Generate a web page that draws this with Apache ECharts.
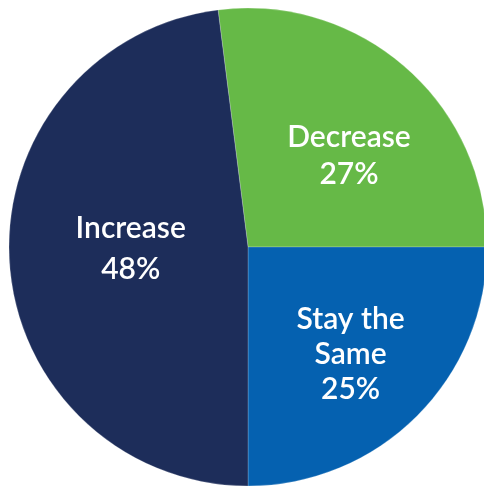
<!DOCTYPE html>
<html>
<head>
<meta charset="utf-8">
<script src="https://cdn.jsdelivr.net/npm/echarts@6/dist/echarts.min.js"></script>
<style>
  html, body { margin: 0; padding: 0; background: #ffffff; }
  #chart { width: 484px; height: 486px; }
</style>
</head>
<body>
<div id="chart"></div>
<script>
// Expected change in outlook — share of responses
const categories = ['Decrease', 'Stay the Same', 'Increase'];
const labelNames = ['Decrease', 'Stay the\nSame', 'Increase'];
const shares = [27, 25, 48];
const sliceColors = ['#66b947', '#0561b0', '#1d2d5a'];

// per-label nudges and line spacing for the inside labels
const labelShift = [[20, 1], [16, 21], [5, -6]];
const labelLineHeight = [37, 35, 41];

const chart = echarts.init(document.getElementById('chart'), null, { renderer: 'canvas' });

const data = categories.map((name, i) => ({
  name: name,
  value: shares[i],
  itemStyle: { color: sliceColors[i] },
  label: {
    formatter: labelNames[i] + '\n' + shares[i] + '%',
    lineHeight: labelLineHeight[i]
  }
}));

// the first slice ends exactly at 3 o'clock, so it starts its own sweep above that
const startAngle = shares[0] / 100 * 360;

chart.setOption({
  animation: false,
  series: [{
    type: 'pie',
    center: [248, 247],
    radius: [0, 239],
    startAngle: startAngle,
    clockwise: true,
    avoidLabelOverlap: false,
    data: data,
    itemStyle: { borderWidth: 0.6, borderColor: 'rgba(255,255,255,0.35)' },
    label: {
      show: true,
      position: 'inside',
      color: '#ffffff',
      fontFamily: 'Lato',
      fontWeight: 600,
      fontSize: 30,
      align: 'center'
    },
    labelLine: { show: false },
    labelLayout: function (params) {
      const s = labelShift[params.dataIndex];
      return { dx: s[0], dy: s[1] };
    },
    emphasis: { disabled: true }
  }]
});
</script>
</body>
</html>
